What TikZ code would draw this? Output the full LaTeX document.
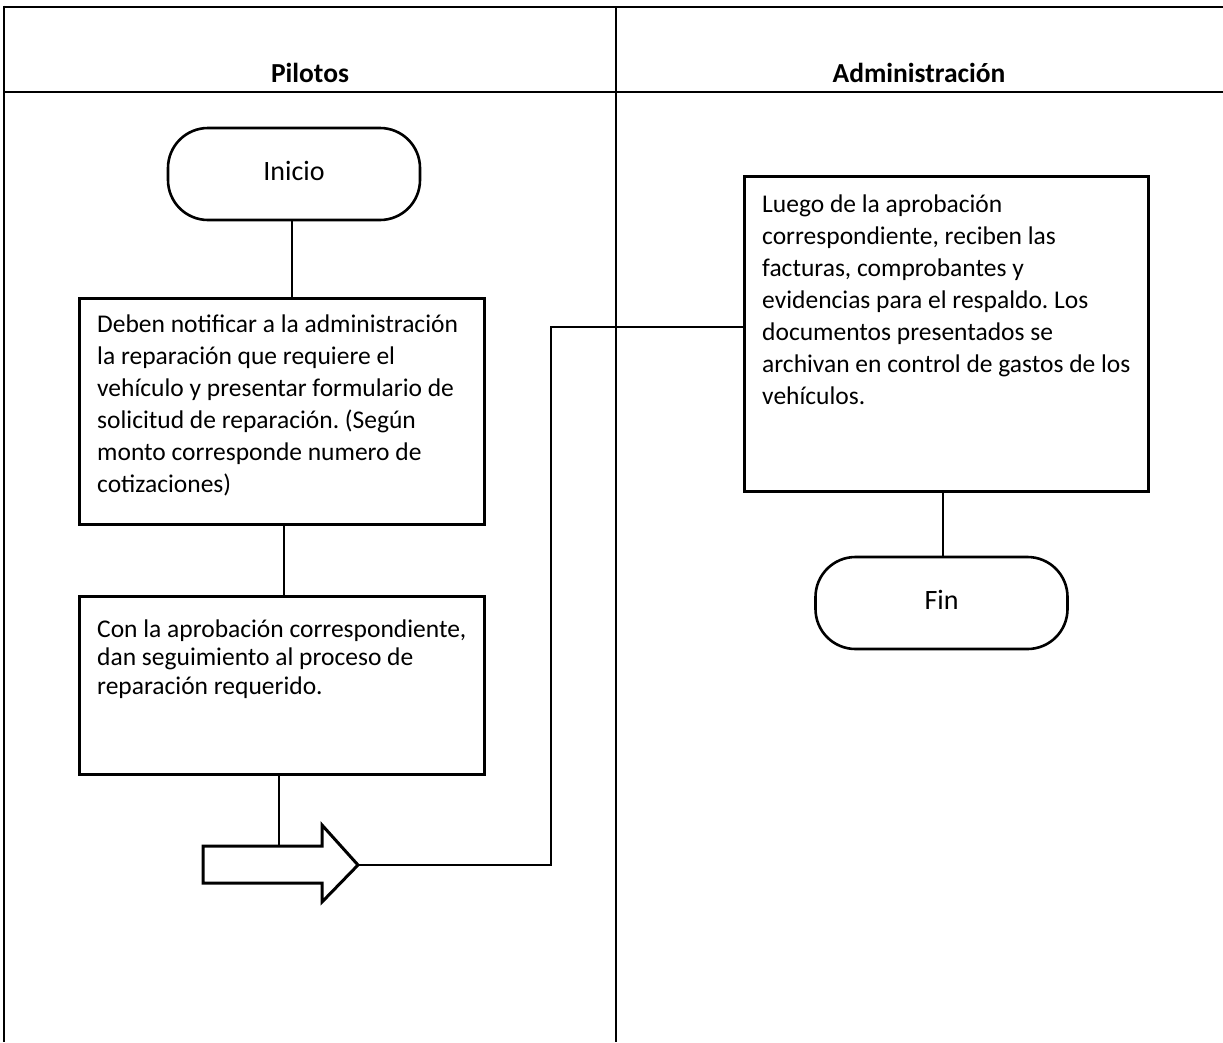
\documentclass[tikz,border=0pt]{standalone}
\usepackage{fontspec}
\setmainfont{Carlito}
\frenchspacing
\begin{document}
\begin{tikzpicture}[x=1pt,y=-1pt,
  lane/.style={line width=2.6pt},
  box/.style={draw, line width=3pt, rectangle, inner sep=0pt, anchor=north west},
  terminal/.style={draw, line width=2.6pt, rectangle, rounded corners=40pt,
    minimum width=252pt, minimum height=92pt, inner sep=0pt,
    font=\fontsize{28}{32}\selectfont},
  link/.style={line width=1.5pt},
  % multi-line text is placed by the baseline of its last line
  body/.style={anchor=base west, inner sep=0pt, align=left},
  lanehead/.style={font=\fontsize{27.5}{32}\selectfont\bfseries, anchor=base, inner sep=0pt}
]
\useasboundingbox (0,0) rectangle (1223,1042);

% swimlane frame
\draw[lane] (3,7) -- (1223,7);
\draw[lane] (3,92) -- (1223,92);
\draw[lane] (4,5.7) -- (4,1042);
\draw[lane] (616,7) -- (616,1042);
\node[lanehead] (hpil) at (310,82) {Pilotos};
\node[lanehead] (hadm) at (919,82) {Administración};

% terminals
\node[terminal, text depth=6pt] (inicio) at (294,174) {Inicio};
\node[terminal, text depth=6pt] (fin) at (941.5,603) {Fin};

% process boxes
\node[box, minimum width=405pt, minimum height=226pt] (b1) at (78,297) {};
\node[body, font=\fontsize{25.5}{32}\selectfont] (t1) at (97,492)
  {Deben notificar a la administración\\la reparación que requiere el\\vehículo y presentar formulario de\\solicitud de reparación. (Según\\monto corresponde numero de\\cotizaciones)};

\node[box, minimum width=405pt, minimum height=178pt] (b2) at (78,595) {};
\node[body, font=\fontsize{25.5}{28.5}\selectfont] (t2) at (97,694)
  {Con la aprobación correspondiente,\\dan seguimiento al proceso de\\reparación requerido.};

\node[box, minimum width=404pt, minimum height=315pt] (b3) at (743,175) {};
\node[body, font=\fontsize{25.5}{32}\selectfont] (t3) at (762,404)
  {Luego de la aprobación\\correspondiente, reciben las\\facturas, comprobantes y\\evidencias para el respaldo. Los\\documentos presentados se\\archivan en control de gastos de los\\vehículos.};

% block arrow leaving the lane
\coordinate (arrtail) at (279,846);
\coordinate (arrtip) at (358,865);
\draw[line width=3pt, fill=white, line join=miter]
  (203,846) -- (322,846) -- (322,825) -- (arrtip) -- (322,902) -- (322,883) -- (203,883) -- cycle;

% connectors
\draw[link] (inicio.south -| 292,0) -- (b1.north -| 292,0);
\draw[link] (b1.south -| 284,0) -- (b2.north -| 284,0);
\draw[link] (b2.south -| arrtail) -- (arrtail);
\coordinate (bend) at (551,327);
\draw[link] (arrtip) -| (bend) -- (bend -| b3.west);
\draw[link] (b3.south -| 943,0) -- (fin.north -| 943,0);
\end{tikzpicture}
\end{document}
